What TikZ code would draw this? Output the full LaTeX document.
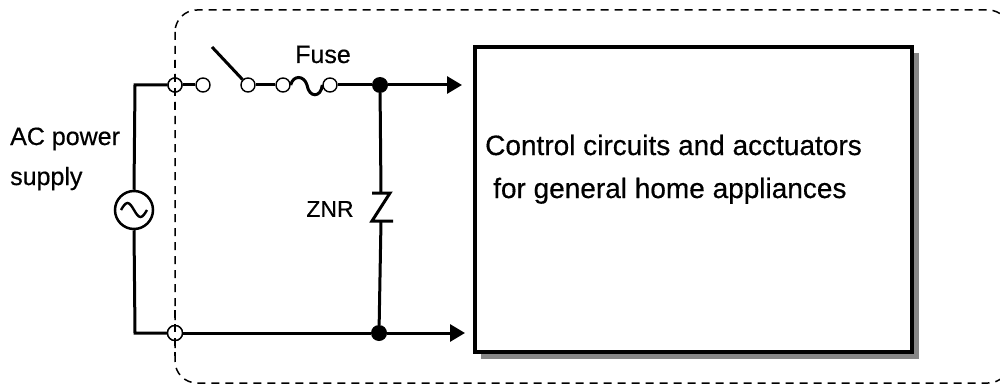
\documentclass[tikz,border=0pt]{standalone}
\usepackage{fontspec}
\setmainfont[FakeBold=0.5]{Liberation Sans}
\usetikzlibrary{arrows.meta}
\begin{document}
\begin{tikzpicture}[x=1pt,y=-1pt,
  wire/.style={line width=3pt},
  term/.style={circle,draw,line width=1.4pt,fill=white,minimum size=14pt,inner sep=0pt},
  dotn/.style={circle,fill=black,minimum size=16pt,inner sep=0pt},
  lbl/.style={inner sep=0pt,font=\fontsize{25}{30}\selectfont},
  arr/.style={wire,-{Triangle[length=15pt,width=17pt]}},
  border/.style={dash pattern=on 8pt off 6pt,line width=1.5pt,rounded corners=22pt}
]
\useasboundingbox (0,0) rectangle (1000,385);
% load box with shadow
\fill[gray!95] (481,53) rectangle (919,359);
\node (box) [draw,fill=white,line width=3.5pt,minimum width=437pt,minimum height=305pt,inner sep=0pt] at (693.5,199.5) {};
\node (l1) [lbl,anchor=base west,font=\fontsize{28}{30}\selectfont] at (485,155) {Control circuits and acctuators};
\node (l2) [lbl,anchor=base west,font=\fontsize{28}{30}\selectfont] at (493,198) {for general home appliances};
% source
\node (src) [circle,draw,line width=2.5pt,minimum size=38pt,inner sep=0pt] at (134,210) {};
\draw[line width=2.4pt] (121,210) sin (127.5,203) cos (134,210) sin (140.5,217) cos (147,210);
\node (ac1) [lbl,anchor=base west] at (10,145) {AC power};
\node (ac2) [lbl,anchor=base west] at (10,185) {supply};
% terminals
\node (t1) [term] at (175,85) {};
\node (t2) [term] at (203,85) {};
\node (t3) [term] at (248,85) {};
\node (t4) [term] at (283,85) {};
\node (t5) [term] at (330,85) {};
\node (b1) [term,minimum size=15pt] at (175,333) {};
\node (d1) [dotn] at (380,85) {};
\node (d2) [dotn] at (379,333) {};
\coordinate (tl) at (135,85);
\coordinate (bl) at (135,333);
\coordinate (a1) at (462,85);
\coordinate (a2) at (465,333);
\coordinate (sw) at (212,47);
\coordinate (zt) at (381,193);
\coordinate (zb) at (381,221);
% wires
\draw[wire] (t1.west) -- (tl) -- (src.north);
\draw[wire] (src.south) -- (bl) -- (b1.west);
\draw[wire] (t1) -- (t2);
\draw[wire] (sw) -- (t3.135);
\draw[wire] (t3) -- (t4);
\draw[wire] (t4.east) .. controls (293,75) and (304,75) .. (307,85) .. controls (309,98) and (321,98) .. (t5.west);
\draw[wire] (t5) -- (d1);
\draw[arr] (d1) -- (a1);
\draw[wire] (b1) -- (d2);
\draw[arr] (d2) -- (a2);
% ZNR
\draw[wire] (d1) -- (zt);
\draw[wire] (372,193) -- (390,193) -- (372,221) -- (393,221);
\draw[wire] (zb) -- (d2);
\node (znr) [lbl,font=\fontsize{23}{26}\selectfont] at (330,209) {ZNR};
\node (fuse) [lbl,anchor=base] at (323,63) {Fuse};
% dashed enclosure
\draw[border] (175,10) rectangle (1010,383);
\node[term] at (t1) {};
\node[term,minimum size=15pt] at (b1) {};
\draw[dash pattern=on 8pt off 6pt,line width=1.5pt] (175,60) -- (175,110);
\draw[dash pattern=on 8pt off 6pt,line width=1.5pt] (175,310) -- (175,356);
\end{tikzpicture}
\end{document}
